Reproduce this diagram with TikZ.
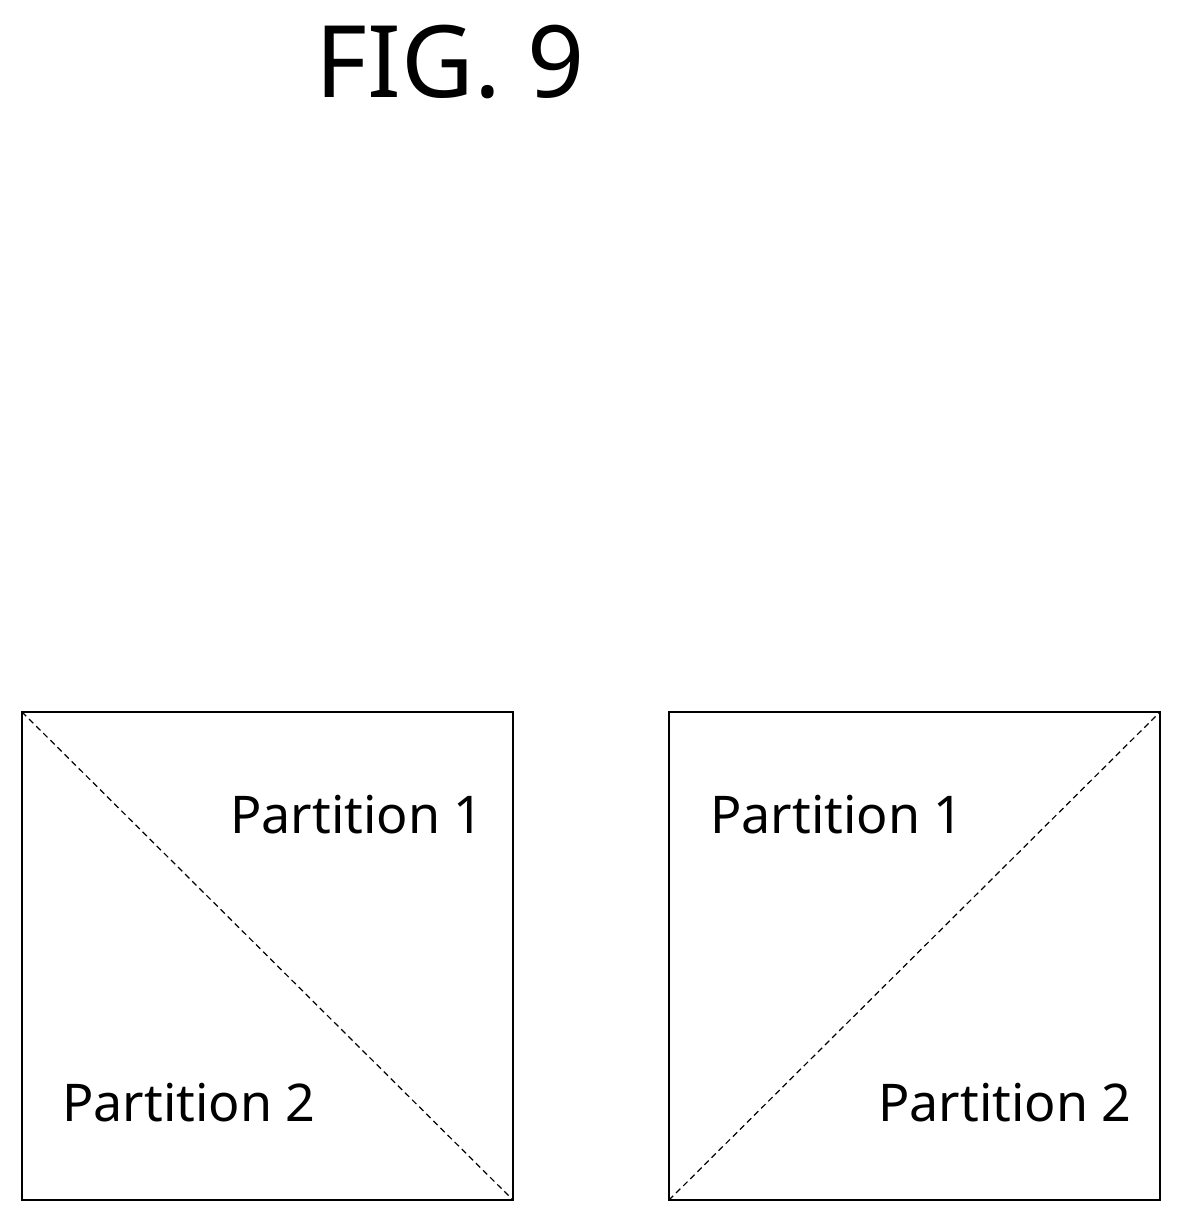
\documentclass[tikz,border=0pt]{standalone}
\usepackage{fontspec}
\setmainfont{Noto Sans}
\begin{document}
\begin{tikzpicture}[x=1pt,y=-1pt,
  box/.style={draw,line width=2pt},
  diag/.style={dashed,line width=1.2pt,dash pattern=on 6pt off 4pt},
  lbl/.style={font=\fontsize{52}{60}\selectfont,inner sep=0pt}]
\useasboundingbox (0,0) rectangle (1183,1224);
\node[font=\fontsize{100}{110}\selectfont,inner sep=0pt] (title) at (450,62) {FIG. 9};
\draw[box] (22,712) coordinate (a1) rectangle (513,1200) coordinate (a2);
\draw[diag] (a1) -- (a2);
\draw[box] (669,712) coordinate (b1) rectangle (1160,1200) coordinate (b2);
\draw[diag] (b1 |- b2) -- (b2 |- b1);
\node[lbl,anchor=west] (p1a) at (230,815) {Partition 1};
\node[lbl,anchor=west] (p2a) at (62,1103) {Partition 2};
\node[lbl,anchor=west] (p1b) at (710,815) {Partition 1};
\node[lbl,anchor=west] (p2b) at (878,1103) {Partition 2};
\end{tikzpicture}
\end{document}
